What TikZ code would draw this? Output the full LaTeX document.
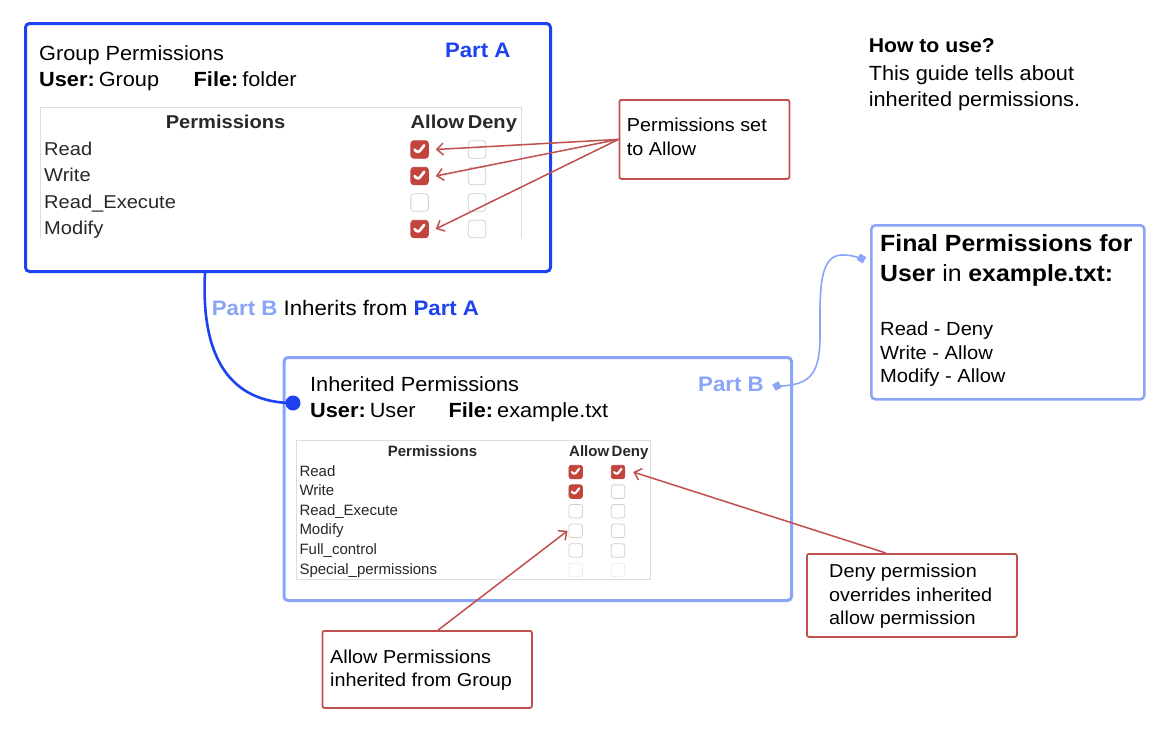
\documentclass[tikz,border=0pt]{standalone}
\usepackage{fontspec}
\setmainfont{Liberation Sans}[FakeStretch=1.06]
\newfontfamily\tabAfont{Liberation Sans}[FakeStretch=1.08]
\newfontfamily\tabBfont{Liberation Sans}
\usetikzlibrary{arrows.meta}
\definecolor{blueA}{RGB}{29,66,240}
\definecolor{blueB}{RGB}{138,164,247}
\definecolor{redC}{RGB}{192,80,77}
\definecolor{redF}{RGB}{194,68,60}
\definecolor{tgray}{RGB}{221,221,221}
\definecolor{cgray}{RGB}{208,208,208}
\definecolor{cfaint}{RGB}{236,236,236}
\definecolor{ttext}{RGB}{40,40,40}
\newcommand{\myfs}[1]{\fontsize{#1}{#1}\selectfont}
\begin{document}
\begin{tikzpicture}[x=1pt,y=-1pt,
  txt/.style={inner sep=0pt, anchor=base west},
  frame/.style={draw=#1, rounded corners=4pt, anchor=north west, inner sep=0pt},
  callbox/.style={draw=redC, line width=1.8pt, rounded corners=2pt, anchor=north west, inner sep=0pt},
  calltxt/.style={txt, font=\myfs{18.7}},
  callarrow/.style={draw=redC, line width=1.5pt, -{Straight Barb[length=6.5pt,width=12pt]}},
  tline/.style={draw=tgray, line width=0.9pt},
  cbox/.style={draw=cgray, line width=0.8pt, rounded corners=3pt, inner sep=0pt, minimum size=#1},
  cbA/.style={cbox=17.5pt},
  cbAon/.style={cbA, fill=redF, draw=redF, path picture={\draw[white,line width=2.7pt,line cap=round,line join=round] ([shift={(-5,0)}]path picture bounding box.center) -- ++(3.4,3.8) -- ++(6.2,-8);}},
  cbB/.style={cbox=13.5pt, rounded corners=2.5pt},
  cbBfaint/.style={cbB, draw=cfaint},
  cbBon/.style={cbB, fill=redF, draw=redF, path picture={\draw[white,line width=2.1pt,line cap=round,line join=round] ([shift={(-3.9,0)}]path picture bounding box.center) -- ++(2.6,2.9) -- ++(4.8,-6.2);}},
  tabAtxt/.style={txt, font=\tabAfont\myfs{18.6}, text=ttext},
  tabBtxt/.style={txt, font=\tabBfont\myfs{15}, text=ttext},
  dmark/.style={fill=blueB, minimum size=7pt, inner sep=0pt, rotate=#1}
]
\useasboundingbox[fill=white] (0,0) rectangle (1170,734);

% ---------- Part A ----------
\node[frame=blueA, line width=3pt, minimum width=525pt, minimum height=248pt] (boxA) at (24,22) {};
\node[txt, font=\myfs{20.5}] (tA1) at (39,60) {Group Permissions};
\node[txt, font=\myfs{20.5}] (tA2) at (39,86.5) {\bfseries User:\mdseries\hspace{4pt}Group};
\node[txt, font=\myfs{20.5}] (tA3) at (193.5,86.5) {\bfseries File:\mdseries\hspace{4pt}folder};
\node[txt, font=\bfseries\myfs{21}, text=blueA] (labA) at (444.8,57) {Part A};

\draw[tline] (40.5,238) |- (521,107) -- (521,238);
\begin{scope}
\clip (30,100) rectangle (530,238);
\node[tabAtxt, anchor=base, font=\tabAfont\bfseries\myfs{18.6}] (hAperm) at (225.5,128) {Permissions};
\node[tabAtxt, font=\tabAfont\bfseries\myfs{18.6}] (hAallow) at (410.5,128) {Allow};
\node[tabAtxt, font=\tabAfont\bfseries\myfs{18.6}] (hAdeny) at (467.6,128) {Deny};
\node[tabAtxt] (rA1) at (44,155) {Read};
\node[tabAtxt] (rA2) at (44,181.5) {Write};
\node[tabAtxt] (rA3) at (44,208) {Read\_Execute};
\node[tabAtxt] (rA4) at (44,234.5) {Modify};
\node[cbAon] (cA1a) at (419.6,149.5) {};
\node[cbA]   (cA1d) at (477,149.5) {};
\node[cbAon] (cA2a) at (419.6,176) {};
\node[cbA]   (cA2d) at (477,176) {};
\node[cbA]   (cA3a) at (419.6,202.5) {};
\node[cbA]   (cA3d) at (477,202.5) {};
\node[cbAon] (cA4a) at (419.6,229) {};
\node[cbA]   (cA4d) at (477,229) {};
\end{scope}

% callout A
\node[callbox, minimum width=170pt, minimum height=79pt] (callA) at (618.5,99) {};
\node[calltxt] (cAt1) at (626.7,131.7) {Permissions set};
\node[calltxt] (cAt2) at (626.7,155) {to Allow};
\draw[callarrow] (callA.west) -- ([xshift=7pt]cA1a.east);
\draw[callarrow] (callA.west) -- ([xshift=7pt]cA2a.east);
\draw[callarrow] (callA.west) -- ([xshift=7pt]cA4a.east);

% how to use
\node[txt, font=\bfseries\myfs{20}] (how1) at (868.6,52.7) {How to use?};
\node[txt, font=\myfs{20.5}] (how2) at (868.6,80) {This guide tells about};
\node[txt, font=\myfs{20.5}] (how3) at (868.6,106) {inherited permissions.};

% inherits label
\node[txt, font=\myfs{21}] (inh) at (211.7,315) {{\color{blueB}\bfseries Part B} Inherits from {\color{blueA}\bfseries Part A}};

% ---------- Part B ----------
\node[frame=blueB, line width=3pt, minimum width=507.5pt, minimum height=243pt] (boxB) at (282.5,356) {};
\node[txt, font=\myfs{20.5}] (tB1) at (310,391) {Inherited Permissions};
\node[txt, font=\myfs{20.5}] (tB2) at (310,417) {\bfseries User:\mdseries\hspace{4pt}User};
\node[txt, font=\myfs{20.5}] (tB3) at (448.3,417) {\bfseries File:\mdseries\hspace{4pt}example.txt};
\node[txt, font=\bfseries\myfs{21}, text=blueB] (labB) at (698,391) {Part B};

\draw[tline] (296,440) rectangle (650.5,579);
\node[tabBtxt, anchor=base, font=\tabBfont\bfseries\myfs{15}] (hBperm) at (432.5,456) {Permissions};
\node[tabBtxt, font=\tabBfont\bfseries\myfs{15}] (hBallow) at (569,456) {Allow};
\node[tabBtxt, font=\tabBfont\bfseries\myfs{15}] (hBdeny) at (611.5,456) {Deny};
\node[tabBtxt] (rB1) at (299.3,476) {Read};
\node[tabBtxt] (rB2) at (299.3,495.6) {Write};
\node[tabBtxt] (rB3) at (299.3,515.2) {Read\_Execute};
\node[tabBtxt] (rB4) at (299.3,534.8) {Modify};
\node[tabBtxt] (rB5) at (299.3,554.4) {Full\_control};
\node[tabBtxt] (rB6) at (299.3,574) {Special\_permissions};
\node[cbBon] (cB1a) at (575.7,472) {};
\node[cbBon] (cB1d) at (618,472) {};
\node[cbBon] (cB2a) at (575.7,491.6) {};
\node[cbB]   (cB2d) at (618,491.6) {};
\node[cbB]   (cB3a) at (575.7,511.2) {};
\node[cbB]   (cB3d) at (618,511.2) {};
\node[cbB]   (cB4a) at (575.7,530.8) {};
\node[cbB]   (cB4d) at (618,530.8) {};
\node[cbB]   (cB5a) at (575.7,550.4) {};
\node[cbB]   (cB5d) at (618,550.4) {};
\node[cbBfaint] (cB6a) at (575.7,570) {};
\node[cbBfaint] (cB6d) at (618,570) {};

% connector A -> B
\coordinate (aOut) at ([xshift=181pt]boxA.south west);
\node[circle, fill=blueA, minimum size=15pt, inner sep=0pt] (dotB) at (293,403) {};
\draw[blueA, line width=2.6pt] (aOut) .. controls (200,370) and (240,403) .. (dotB.center);

% callout deny
\node[callbox, minimum width=210pt, minimum height=83pt] (callDeny) at (806,553) {};
\node[calltxt] (cDt1) at (829,577) {Deny permission};
\node[calltxt] (cDt2) at (829,601) {overrides inherited};
\node[calltxt] (cDt3) at (829,624.5) {allow permission};
\draw[callarrow] ([xshift=-26pt]callDeny.north) -- ([xshift=8pt]cB1d.east);

% callout allow
\node[callbox, minimum width=209.5pt, minimum height=77pt] (callAllow) at (321.5,630) {};
\node[calltxt] (cLt1) at (330,663) {Allow Permissions};
\node[calltxt] (cLt2) at (330,686.7) {inherited from Group};
\draw[callarrow] ([xshift=11pt]callAllow.north) -- ([xshift=-1pt]cB4a.west);

% ---------- Final ----------
\node[frame=blueB, line width=2.6pt, minimum width=273pt, minimum height=174pt] (finalBox) at (870,224) {};
\node[txt, font=\bfseries\myfs{23.4}] (fT1) at (880,251.5) {Final Permissions for};
\node[txt, font=\myfs{23.4}] (fT2) at (880,281.7) {\bfseries User \mdseries in \bfseries example.txt:};
\node[txt, font=\myfs{19}] (fL1) at (880,335.5) {Read - Deny};
\node[txt, font=\myfs{19}] (fL2) at (880,359) {Write - Allow};
\node[txt, font=\myfs{19}] (fL3) at (880,382.5) {Modify - Allow};

\node[dmark=30] (dB) at (777,386) {};
\node[dmark=60] (dF) at (861.5,258.5) {};
\draw[blueB, line width=1.6pt]
  (dB.center) .. controls (812,386) and (820,372) .. (820,335)
  .. controls (820,295) and (818,255) .. (842,255)
  .. controls (852,255) and (856,257) .. (dF.center);
\end{tikzpicture}
\end{document}
